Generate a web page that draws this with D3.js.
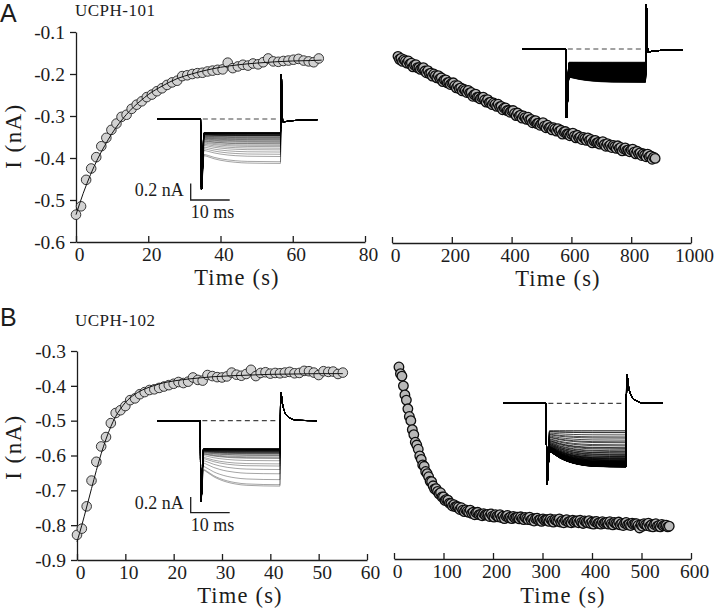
<!DOCTYPE html>
<html>
<head>
<meta charset="utf-8">
<script src="https://cdn.jsdelivr.net/npm/d3@7"></script>
<style>
  body { margin: 0; background: #fff; }
  svg { display: block; }
</style>
</head>
<body>
<div id="viz"></div>
<script>
// ---- values ----

// A, UCPH-101, wash-in (s, nA)
const timeA1 = [0, 1.4, 2.8, 4.2, 5.6, 7.0, 8.4, 9.8, 11.2, 12.6, 14.0, 15.4, 16.8, 18.2, 19.6, 21.0, 22.4,
  23.8, 25.2, 26.6, 28.0, 29.4, 30.8, 32.2, 33.6, 35.0, 36.4, 37.8, 39.2, 40.6, 42.0, 43.4, 44.8, 46.2,
  47.6, 49.0, 50.4, 51.8, 53.2, 54.6, 56.0, 57.4, 58.8, 60.2, 61.6, 63.0, 64.4, 65.8, 67.2];
const currA1 = [-0.535, -0.515, -0.452, -0.425, -0.398, -0.372, -0.352, -0.333, -0.318, -0.302, -0.297,
  -0.283, -0.273, -0.265, -0.255, -0.249, -0.241, -0.234, -0.226, -0.220, -0.216, -0.205, -0.203, -0.200,
  -0.198, -0.197, -0.194, -0.192, -0.190, -0.189, -0.173, -0.186, -0.182, -0.178, -0.180, -0.175, -0.177,
  -0.172, -0.163, -0.170, -0.171, -0.169, -0.168, -0.166, -0.164, -0.168, -0.170, -0.172, -0.163];
const fitTimeA1 = [0, 2, 4, 6, 8, 10, 12, 14, 16, 18, 20, 24, 28, 32, 36, 40, 45, 50, 55, 60, 65, 68];
const fitCurrA1 = [-0.535, -0.484, -0.440, -0.402, -0.370, -0.341, -0.317, -0.296, -0.278, -0.263, -0.249,
  -0.228, -0.211, -0.200, -0.191, -0.184, -0.178, -0.174, -0.171, -0.169, -0.168, -0.167];

// A, UCPH-101, wash-out
const timeA2 = [20, 25, 30, 35, 40, 45, 50, 55, 60, 65, 70, 75, 80, 85, 90, 95, 100, 105, 110, 115,
  120, 125, 130, 135, 140, 145, 150, 155, 160, 165, 170, 175, 180, 185, 190, 195, 200, 205, 210, 215,
  220, 225, 230, 235, 240, 245, 250, 255, 260, 265, 270, 275, 280, 285, 290, 295, 300, 305, 310, 315,
  320, 325, 330, 335, 340, 345, 350, 355, 360, 365, 370, 375, 380, 385, 390, 395, 400, 405, 410, 415,
  420, 425, 430, 435, 440, 445, 450, 455, 460, 465, 470, 475, 480, 485, 490, 495, 500, 505, 510, 515,
  520, 525, 530, 535, 540, 545, 550, 555, 560, 565, 570, 575, 580, 585, 590, 595, 600, 605, 610, 615,
  620, 625, 630, 635, 640, 645, 650, 655, 660, 665, 670, 675, 680, 685, 690, 695, 700, 705, 710, 715,
  720, 725, 730, 735, 740, 745, 750, 755, 760, 765, 770, 775, 780, 785, 790, 795, 800, 805, 810, 815,
  820, 825, 830, 835, 840, 845, 850, 855, 860, 865, 870, 875, 880];
const currA2 = [-0.158, -0.165, -0.163, -0.170, -0.166, -0.169, -0.174, -0.169, -0.176, -0.174,
  -0.183, -0.179, -0.178, -0.185, -0.185, -0.189, -0.186, -0.185, -0.193, -0.197,
  -0.192, -0.199, -0.198, -0.205, -0.200, -0.204, -0.209, -0.204, -0.211, -0.209,
  -0.218, -0.214, -0.214, -0.221, -0.220, -0.225, -0.222, -0.221, -0.228, -0.233,
  -0.228, -0.235, -0.233, -0.240, -0.236, -0.239, -0.244, -0.239, -0.245, -0.244,
  -0.253, -0.249, -0.248, -0.255, -0.255, -0.259, -0.256, -0.255, -0.262, -0.267,
  -0.261, -0.268, -0.267, -0.273, -0.269, -0.272, -0.277, -0.272, -0.278, -0.277,
  -0.285, -0.281, -0.281, -0.287, -0.287, -0.291, -0.288, -0.287, -0.294, -0.299,
  -0.293, -0.300, -0.298, -0.305, -0.300, -0.304, -0.308, -0.303, -0.309, -0.308,
  -0.316, -0.312, -0.311, -0.318, -0.317, -0.322, -0.318, -0.316, -0.324, -0.328,
  -0.322, -0.328, -0.327, -0.333, -0.328, -0.331, -0.336, -0.330, -0.336, -0.334,
  -0.343, -0.338, -0.337, -0.343, -0.343, -0.347, -0.343, -0.341, -0.348, -0.352,
  -0.346, -0.352, -0.350, -0.356, -0.351, -0.354, -0.358, -0.352, -0.358, -0.356,
  -0.364, -0.359, -0.358, -0.364, -0.363, -0.367, -0.363, -0.361, -0.368, -0.372,
  -0.366, -0.372, -0.369, -0.375, -0.370, -0.373, -0.377, -0.371, -0.377, -0.375,
  -0.383, -0.378, -0.376, -0.382, -0.381, -0.385, -0.381, -0.379, -0.386, -0.390,
  -0.384, -0.390, -0.388, -0.394, -0.390, -0.393, -0.397, -0.391, -0.397, -0.395,
  -0.403, -0.398, -0.401];

// B, UCPH-102, wash-in
const timeB1 = [0, 1, 2, 3, 4, 5, 6, 7, 8, 9, 10, 11, 12, 13, 14, 15, 16, 17, 18, 19, 20, 21, 22, 23,
  24, 25, 26, 27, 28, 29, 30, 31, 32, 33, 34, 35, 36, 37, 38, 39, 40, 41, 42, 43, 44, 45, 46, 47, 48,
  49, 50, 51, 52, 53, 54, 55];
const currB1 = [-0.828, -0.810, -0.746, -0.672, -0.618, -0.574, -0.547, -0.507, -0.478, -0.470,
  -0.458, -0.441, -0.436, -0.424, -0.418, -0.412, -0.410, -0.406, -0.402, -0.398,
  -0.394, -0.389, -0.392, -0.388, -0.376, -0.383, -0.385, -0.369, -0.372, -0.375,
  -0.376, -0.373, -0.362, -0.368, -0.371, -0.366, -0.354, -0.372, -0.363, -0.361,
  -0.365, -0.363, -0.364, -0.362, -0.360, -0.364, -0.363, -0.357, -0.358, -0.362,
  -0.369, -0.358, -0.360, -0.359, -0.366, -0.362];
const fitTimeB1 = [0, 1, 2, 3, 4, 5, 6, 7, 8, 9, 10, 12, 14, 16, 18, 20, 24, 28, 32, 36, 40, 45, 50, 55];
const fitCurrB1 = [-0.848, -0.800, -0.748, -0.695, -0.643, -0.595, -0.553, -0.517, -0.488, -0.466,
  -0.448, -0.424, -0.409, -0.399, -0.391, -0.386, -0.379, -0.374, -0.371, -0.369, -0.367, -0.366,
  -0.365, -0.365];

// B, UCPH-102, wash-out
const timeB2 = [10, 13, 16, 19, 22, 25, 28, 31, 34, 37, 40, 43, 46, 49, 52, 55, 58, 61, 64, 67,
  70, 73, 76, 79, 82, 85, 88, 91, 94, 97, 100, 103, 106, 109, 112, 115, 118, 121, 124, 127,
  130, 133, 136, 139, 142, 145, 148, 151, 154, 157, 160, 163, 166, 169, 172, 175, 178, 181, 184, 187,
  190, 193, 196, 199, 202, 205, 208, 211, 214, 217, 220, 223, 226, 229, 232, 235, 238, 241, 244, 247,
  250, 253, 256, 259, 262, 265, 268, 271, 274, 277, 280, 283, 286, 289, 292, 295, 298, 301, 304, 307,
  310, 313, 316, 319, 322, 325, 328, 331, 334, 337, 340, 343, 346, 349, 352, 355, 358, 361, 364, 367,
  370, 373, 376, 379, 382, 385, 388, 391, 394, 397, 400, 403, 406, 409, 412, 415, 418, 421, 424, 427,
  430, 433, 436, 439, 442, 445, 448, 451, 454, 457, 460, 463, 466, 469, 472, 475, 478, 481, 484, 487,
  490, 493, 496, 499, 502, 505, 508, 511, 514, 517, 520, 523, 526, 529, 532, 535, 538, 541, 544, 547,
  550, 553, 556];
const currB2 = [-0.346, -0.365, -0.372, -0.400, -0.426, -0.441, -0.466, -0.488, -0.500, -0.526,
  -0.540, -0.562, -0.570, -0.582, -0.601, -0.611, -0.627, -0.631, -0.646, -0.652,
  -0.661, -0.674, -0.675, -0.687, -0.696, -0.695, -0.703, -0.710, -0.707, -0.719,
  -0.719, -0.729, -0.726, -0.728, -0.737, -0.738, -0.745, -0.741, -0.747, -0.746,
  -0.748, -0.755, -0.750, -0.757, -0.761, -0.756, -0.760, -0.763, -0.757, -0.766,
  -0.763, -0.770, -0.764, -0.763, -0.770, -0.769, -0.773, -0.767, -0.771, -0.769,
  -0.769, -0.775, -0.768, -0.774, -0.777, -0.770, -0.774, -0.776, -0.770, -0.778,
  -0.774, -0.781, -0.774, -0.772, -0.779, -0.777, -0.781, -0.775, -0.779, -0.777,
  -0.777, -0.782, -0.776, -0.781, -0.784, -0.778, -0.781, -0.784, -0.777, -0.785,
  -0.782, -0.788, -0.781, -0.780, -0.786, -0.784, -0.789, -0.782, -0.786, -0.784,
  -0.784, -0.789, -0.782, -0.787, -0.791, -0.784, -0.787, -0.789, -0.782, -0.791,
  -0.787, -0.793, -0.786, -0.784, -0.791, -0.789, -0.793, -0.786, -0.791, -0.788,
  -0.788, -0.793, -0.786, -0.792, -0.795, -0.788, -0.791, -0.793, -0.787, -0.795,
  -0.791, -0.797, -0.790, -0.789, -0.795, -0.793, -0.797, -0.790, -0.795, -0.792,
  -0.792, -0.797, -0.790, -0.796, -0.799, -0.792, -0.795, -0.797, -0.791, -0.799,
  -0.795, -0.801, -0.794, -0.792, -0.799, -0.797, -0.801, -0.794, -0.798, -0.796,
  -0.796, -0.801, -0.808, -0.799, -0.803, -0.796, -0.799, -0.801, -0.794, -0.803,
  -0.799, -0.805, -0.798, -0.796, -0.803, -0.801, -0.805, -0.798, -0.802, -0.800,
  -0.800, -0.805, -0.803];

// axis ticks
const yTicksA = [-0.1, -0.2, -0.3, -0.4, -0.5, -0.6];
const yTicksB = [-0.3, -0.4, -0.5, -0.6, -0.7, -0.8, -0.9];
const xTicksA1 = [0, 20, 40, 60, 80];
const xTicksA2 = [0, 200, 400, 600, 800, 1000];
const xTicksB1 = [0, 10, 20, 30, 40, 50, 60];
const xTicksB2 = [0, 100, 200, 300, 400, 500, 600];

// inset sweep shape (ms): sag of each sweep towards its steady level, off-response tails
const pulseEnd = 20.5;
const sagTimes = [0.9, 2, 3.5, 5, 7, 9, 12, 20.5];
const sagWeights = [1, 0.85, 0.6, 0.42, 0.25, 0.14, 0.05, 0];
const tailTimesA = [20.7, 21.1, 23, 26, 30];
const tailCurrA = [0.54, -0.035, -0.022, -0.014, -0.008];
const tailTimesB = [20.7, 21.2, 21.8, 22.6, 23.6, 25, 30];
const tailCurrB = [0.36, 0.2, 0.1, 0.05, 0.02, 0.005, 0];

const serif = "'Liberation Serif', 'Times New Roman', serif";
const sans = "'Liberation Sans', Arial, sans-serif";
const ink = "#1c1c1c";

const svg = d3.select("#viz").append("svg")
    .attr("width", 720)
    .attr("height", 608);

// scales, the right-hand panels share the y scale of their row
const yA = d3.scaleLinear().domain([-0.6, -0.1]).range([242, 32]);
const yB = d3.scaleLinear().domain([-0.9, -0.3]).range([560, 351]);
const xA1 = d3.scaleLinear().domain([0, 80]).range([76, 365]);
const xA2 = d3.scaleLinear().domain([0, 1000]).range([392, 691]);
const xB1 = d3.scaleLinear().domain([0, 60]).range([77, 367]);
const xB2 = d3.scaleLinear().domain([0, 600]).range([394, 691]);

function styleAxis(g) {
    g.attr("font-family", serif).attr("font-size", 19.5);
    g.select(".domain").attr("stroke", ink).attr("stroke-width", 1.3);
    g.selectAll(".tick line").attr("stroke", ink).attr("stroke-width", 1.3);
    g.selectAll(".tick text").attr("fill", ink);
}

function drawXAxis(x, ticks, yPos, titleX, titleY) {
    const g = svg.append("g")
        .attr("transform", `translate(0,${yPos})`)
        .call(d3.axisBottom(x).tickValues(ticks).tickSize(-6).tickSizeOuter(0).tickFormat(d3.format("d")));
    styleAxis(g);
    g.selectAll(".tick text").attr("y", 19).attr("dy", null).attr("dx", 3);

    svg.append("text")
        .attr("x", titleX)
        .attr("y", titleY)
        .attr("text-anchor", "middle")
        .attr("font-family", serif)
        .attr("font-size", 22.5)
        .attr("letter-spacing", 1.2)
        .attr("fill", ink)
        .text("Time (s)");
}

function drawYAxis(y, ticks, xPos, labelY) {
    const g = svg.append("g")
        .attr("transform", `translate(${xPos},0)`)
        .call(d3.axisLeft(y).tickValues(ticks).tickSize(6).tickSizeOuter(0).tickFormat(d => d.toFixed(1)));
    styleAxis(g);
    g.selectAll(".tick text").attr("x", -11);

    svg.append("text")
        .attr("transform", `translate(21,${labelY}) rotate(-90)`)
        .attr("text-anchor", "middle")
        .attr("font-family", serif)
        .attr("font-size", 23)
        .attr("letter-spacing", 1.4)
        .attr("fill", ink)
        .text("I (nA)");
}

function drawPoints(x, y, times, values, dense) {
    svg.append("g").selectAll("circle")
        .data(times)
        .join("circle")
        .attr("cx", d => x(d))
        .attr("cy", (d, i) => y(values[i]))
        .attr("r", 4.8)
        .attr("fill", dense ? "#b8b8b8" : "#d2d2d2")
        .attr("stroke", dense ? "#0d0d0d" : "#222")
        .attr("stroke-width", dense ? 1.3 : 0.9);
}

function drawFit(x, y, times, values) {
    const line = d3.line()
        .x(d => x(d))
        .y((d, i) => y(values[i]))
        .curve(d3.curveMonotoneX);
    svg.append("path")
        .attr("d", line(times))
        .attr("fill", "none")
        .attr("stroke", "#111")
        .attr("stroke-width", 1);
}

// one current sweep of the inset, in (ms, nA)
function sweep(level, top, cfg) {
    const pts = [[-11, 0], [0, 0], [0.25, cfg.onPeak]];
    sagTimes.forEach((t, i) => pts.push([t, level + (top - level) * cfg.sag * sagWeights[i]]));
    cfg.tailTimes.forEach((t, i) => pts.push([t, cfg.tailCurr[i]]));
    return pts;
}

function drawInset(cfg) {
    const xI = d3.scaleLinear().domain([0, 10]).range([cfg.x0, cfg.x0 + 39]);
    const yI = d3.scaleLinear().domain([0, -1]).range([cfg.y0, cfg.y0 + cfg.pxPerNa]);
    const top = d3.max(cfg.levels);
    const line = d3.line().x(d => xI(d[0])).y(d => yI(d[1])).curve(d3.curveMonotoneX);
    const g = svg.append("g");

    g.selectAll("path")
        .data(cfg.levels)
        .join("path")
        .attr("d", L => line(sweep(L, top, cfg)))
        .attr("fill", "none")
        .attr("stroke", "#000")
        .attr("stroke-width", cfg.width)
        .attr("stroke-opacity", cfg.opacity);

    // dashed zero-current line during the pulse
    g.append("line")
        .attr("x1", xI(0.6)).attr("x2", xI(pulseEnd - 0.3))
        .attr("y1", cfg.y0).attr("y2", cfg.y0)
        .attr("stroke", "#444")
        .attr("stroke-width", 1.2)
        .attr("stroke-dasharray", "5,3.5");

    // scale bar
    if (cfg.bar) {
        const bx = 190.7, by = cfg.bar;
        g.append("path")
            .attr("d", `M${bx},${by - 0.2 * cfg.pxPerNa}V${by}H${xI(10) - xI(0) + bx}`)
            .attr("fill", "none")
            .attr("stroke", ink)
            .attr("stroke-width", 1.3);
        g.append("text")
            .attr("x", bx - 7).attr("y", by - 4)
            .attr("text-anchor", "end")
            .attr("font-family", serif).attr("font-size", 18).attr("fill", ink)
            .text("0.2 nA");
        g.append("text")
            .attr("x", bx).attr("y", by + 18)
            .attr("font-family", serif).attr("font-size", 18).attr("fill", ink)
            .text("10 ms");
    }
}

// ---- panel A ----
drawYAxis(yA, yTicksA, 76, 136);
drawXAxis(xA1, xTicksA1, 242, 237, 285);
drawXAxis(xA2, xTicksA2, 243, 558, 286);
drawPoints(xA1, yA, timeA1, currA1, false);
drawFit(xA1, yA, fitTimeA1, fitCurrA1);
drawPoints(xA2, yA, timeA2, currA2, true);

drawInset({ x0: 200.5, y0: 119, pxPerNa: 83, levels: currA1, sag: 0.25, onPeak: -0.85,
    tailTimes: tailTimesA, tailCurr: tailCurrA, opacity: 0.6, width: 0.6, bar: 200 });
drawInset({ x0: 565.5, y0: 49, pxPerNa: 83, levels: currA2, sag: 0.25, onPeak: -0.83,
    tailTimes: tailTimesA, tailCurr: tailCurrA, opacity: 0.9, width: 0.6 });

// ---- panel B ----
drawYAxis(yB, yTicksB, 77, 447);
drawXAxis(xB1, xTicksB1, 560, 240, 603);
drawXAxis(xB2, xTicksB2, 559, 563, 603);
drawPoints(xB1, yB, timeB1, currB1, false);
drawFit(xB1, yB, fitTimeB1, fitCurrB1);
drawPoints(xB2, yB, timeB2, currB2, true);

drawInset({ x0: 200, y0: 420.7, pxPerNa: 79, levels: currB1, sag: 0.42, onPeak: -1.02,
    tailTimes: tailTimesB, tailCurr: tailCurrB, opacity: 0.6, width: 0.6, bar: 512.7 });
drawInset({ x0: 546, y0: 403.3, pxPerNa: 79, levels: currB2, sag: 0.42, onPeak: -1.03,
    tailTimes: tailTimesB, tailCurr: tailCurrB, opacity: 0.9, width: 0.8 });

// panel letters and compound names
[["A", 22, "UCPH-101", 16], ["B", 326, "UCPH-102", 326]].forEach(([letter, ly, name, ny]) => {
    svg.append("text")
        .attr("x", 0).attr("y", ly)
        .attr("font-family", sans).attr("font-size", 25).attr("fill", ink)
        .text(letter);
    svg.append("text")
        .attr("x", 75).attr("y", ny)
        .attr("font-family", serif).attr("font-size", 17).attr("letter-spacing", 0.5).attr("fill", ink)
        .text(name);
});
</script>
</body>
</html>
